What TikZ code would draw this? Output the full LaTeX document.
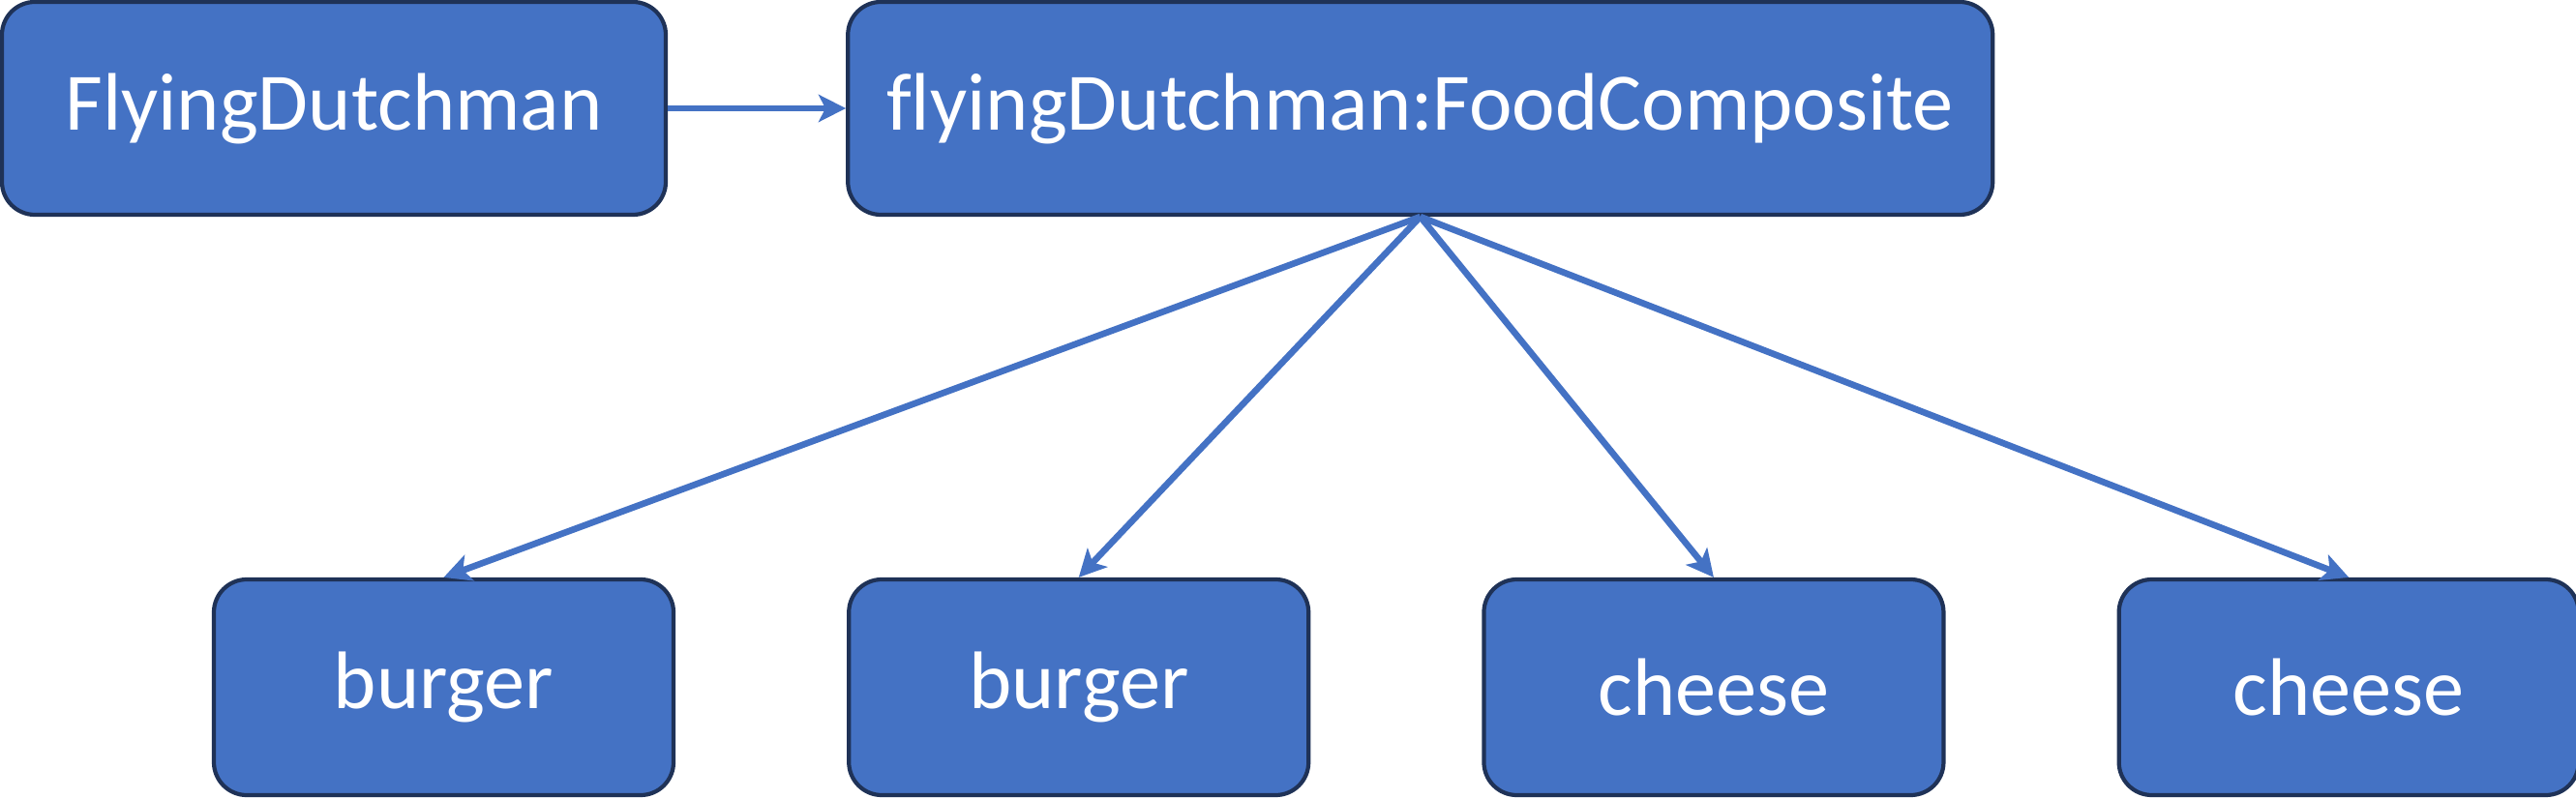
\documentclass[tikz,border=0pt]{standalone}
\usepackage{fontspec}
\setmainfont{Carlito}[Ligatures=NoCommon]
\usepackage{tikz}
\usetikzlibrary{arrows.meta}
\usetikzlibrary{positioning}
\definecolor{boxblue}{HTML}{4472C4}
\definecolor{boxedge}{HTML}{1F3257}
\tikzstyle{objblock} = [rectangle, rounded corners=0.34cm, minimum height=2.2cm, inner sep=0pt,
  text centered, draw=boxedge, line width=1.2pt, fill=boxblue, text=white,
  font=\fontsize{24}{28}\selectfont]
\tikzstyle{partblock} = [objblock, minimum width=4.75cm, minimum height=2.23cm]
\tikzstyle{arrow} = [draw=boxblue, line width=1.9pt, ->, >={Stealth[length=8pt,width=8pt,inset=2pt]}]
\begin{document}
\begin{tikzpicture}
  \useasboundingbox (0,0) rectangle (26.62,8.25);
  \node (fd) [objblock, minimum width=6.86cm] at (3.45,7.13) {FlyingDutchman};
  \node (fc) [objblock, minimum width=11.83cm, right=1.84cm of fd] {flyingDutchman:FoodComposite};
  \draw [arrow] (fd) -- (fc);
  % the parts
  \node (b1) [partblock] at (4.585,1.145) {burger};
  \node (b2) [partblock, right=1.77cm of b1] {burger};
  \node (c1) [partblock, right=1.77cm of b2] {cheese};
  \node (c2) [partblock, right=1.77cm of c1] {cheese};
  \draw [arrow] (fc.south) -- (b1.north);
  \draw [arrow] (fc.south) -- (b2.north);
  \draw [arrow] (fc.south) -- (c1.north);
  \draw [arrow] (fc.south) -- (c2.north);
\end{tikzpicture}
\end{document}
